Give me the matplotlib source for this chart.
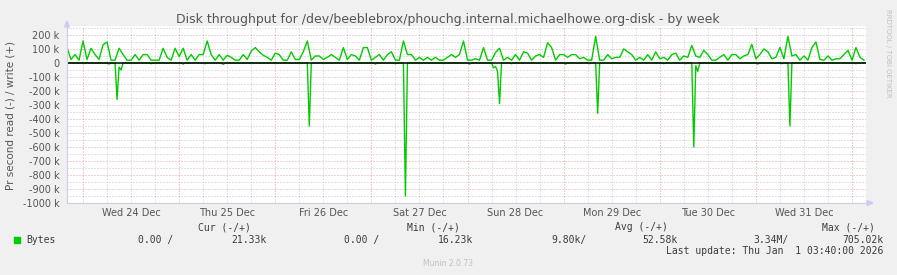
import matplotlib.pyplot as plt
import matplotlib.dates as mdates
from matplotlib.patches import Rectangle, Polygon
from matplotlib.lines import Line2D
import pandas as pd

W, H = 897, 275

# write (+) in kB/s, hourly averages from Tue 23 Dec 20:00
write_k = [
    110, 25, 60, 20, 157, 25, 105, 60, 25, 130,
    150, 20, 20, 105, 60, 20, 20, 60, 20, 60,
    60, 20, 20, 20, 105, 40, 20, 105, 45, 105,
    20, 60, 20, 60, 60, 157, 60, 20, 60, 20,
    55, 40, 20, 20, 60, 25, 85, 110, 80, 55,
    40, 20, 70, 60, 20, 20, 80, 25, 25, 80,
    157, 20, 50, 50, 25, 40, 60, 40, 20, 110,
    25, 60, 50, 20, 110, 110, 20, 40, 60, 20,
    60, 80, 20, 20, 157, 60, 60, 20, 40, 20,
    40, 20, 40, 20, 20, 40, 60, 40, 60, 157,
    20, 20, 30, 20, 110, 20, 20, 75, 105, 20,
    40, 20, 60, 20, 80, 70, 20, 50, 60, 40,
    145, 110, 20, 60, 60, 40, 60, 60, 30, 40,
    20, 20, 190, 20, 20, 60, 30, 40, 40, 100,
    80, 60, 20, 40, 20, 60, 20, 80, 30, 40,
    20, 60, 70, 20, 50, 40, 125, 50, 40, 90,
    60, 20, 20, 40, 60, 20, 60, 60, 30, 50,
    60, 133, 30, 60, 100, 80, 30, 40, 110, 30,
    190, 50, 60, 20, 50, 20, 110, 150, 25, 20,
    50, 20, 30, 30, 60, 90, 20, 110, 40, 20,
]

# read (-) in kB/s: zero except these half-hour slots
read_slot = [21, 25, 26, 27, 42, 58, 69, 78, 121, 154, 164, 169, 201,
             213, 214, 215, 216, 222, 249, 261, 265, 298, 309, 313, 314,
             315, 345, 357, 361, 394]
read_k = [8, 260, 30, 50, 5, 8, 5, 10, 450, 8, 5, 950, 8,
          35, 25, 60, 290, 5, 8, 5, 360, 5, 5, 600, 20,
          60, 8, 5, 450, 5]

start = '2025-12-23 20:00'
end = '2026-01-01 03:30'
t_write = pd.date_range(start, periods=len(write_k), freq='h')
t_read = pd.date_range(start, periods=400, freq='30min')
read_vals = [0.0] * len(t_read)
for s, v in zip(read_slot, read_k):
    read_vals[s] = -v

title = "Disk throughput for /dev/beeblebrox/phouchg.internal.michaelhowe.org-disk - by week"
ylabel = "Pr second read (-) / write (+)"
txt_col = '#555555'

fig = plt.figure(figsize=(W / 100, H / 100), dpi=100, facecolor='#f0f0f0')
ax = fig.add_axes([67 / W, 1 - 203 / H, (866 - 67) / W, (203 - 26) / H])
ax.set_facecolor('white')
for s in ax.spines.values():
    s.set_visible(False)

dot = (0, (1, 2))
# grid
for v in range(-950, 251, 50):
    c = '#d8a8a8' if v % 100 == 0 else '#c6c6c6'
    ax.axhline(v, color=c, lw=0.72, ls=dot, zorder=0)
for d in pd.date_range('2025-12-23 18:00', '2026-01-01 00:00', freq='6h'):
    c = '#d89a9a' if d.hour == 0 else '#c6c6c6'
    ax.axvline(d, color=c, lw=0.72, ls=dot, zorder=0)

ax.plot(t_write, write_k, color='#00cc00', lw=1.0, zorder=2)
ax.plot(t_read, read_vals, color='#00cc00', lw=1.0, zorder=2)
ax.axhline(0, color='black', lw=1.1, zorder=3)

ax.set_xlim(pd.Timestamp(start), pd.Timestamp(end))
ax.set_ylim(-1000, 264)

yt = list(range(-1000, 201, 100))
ax.set_yticks(yt)
ax.set_yticklabels(['0' if v == 0 else '%d k' % v for v in yt])
ax.xaxis.set_major_locator(mdates.HourLocator(byhour=12))
ax.xaxis.set_major_formatter(mdates.DateFormatter('%a %d %b'))
ax.tick_params(axis='y', length=0, pad=5.5, labelsize=7, labelcolor=txt_col)
ax.tick_params(axis='x', length=0, pad=3.5, labelsize=7, labelcolor=txt_col)


def px(x, y):
    return (x / W, 1 - y / H)


# axis lines with arrows
ax_col = '#cdcdf2'
fig.add_artist(Line2D([67 / W, 67 / W], [1 - 203 / H, 1 - 24 / H], color=ax_col, lw=0.8))
fig.add_artist(Line2D([67 / W, 869 / W], [1 - 203 / H, 1 - 203 / H], color=ax_col, lw=0.8))
fig.add_artist(Polygon([px(64.5, 27), px(69.5, 27), px(67, 21)], closed=True,
                       transform=fig.transFigure, color=ax_col))
fig.add_artist(Polygon([px(867, 200.5), px(867, 205.5), px(873, 203)], closed=True,
                       transform=fig.transFigure, color=ax_col))

fig.text(448 / W, 1 - 23.5 / H, title, ha='center', va='baseline', fontsize=9, color=txt_col)
fig.text(11 / W, 1 - 115 / H, ylabel, ha='center', va='center', rotation=90,
         fontsize=7.5, color=txt_col)
fig.text(887.5 / W, 1 - 53 / H, 'RRDTOOL / TOBI OETIKER', ha='center', va='center',
         rotation=270, fontsize=5, color='#c0c0c0')

mono = dict(family='DejaVu Sans Mono', fontsize=7, color='#3c3c3c', va='baseline')
headers = ['Cur (-/+)', 'Min (-/+)', 'Avg (-/+)', 'Max (-/+)']
header_x = [198, 407, 615, 822]
for h, x in zip(headers, header_x):
    fig.text(x / W, 1 - 230 / H, h, ha='left', **mono)

fig.add_artist(Rectangle(px(14, 243), 6 / W, 6 / H, transform=fig.transFigure,
                         color='#00cc00'))
fig.text(26 / W, 1 - 243 / H, 'Bytes', ha='left', **mono)
values = ['0.00 /', '21.33k', '0.00 /', '16.23k', '9.80k/', '52.58k', '3.34M/', '705.02k']
value_x = [173, 267, 379, 473, 587, 678, 789, 883]
for v, x in zip(values, value_x):
    fig.text(x / W, 1 - 243 / H, v, ha='right', **mono)
fig.text(883 / W, 1 - 254.5 / H, 'Last update: Thu Jan  1 03:40:00 2026', ha='right', **mono)
fig.text(448 / W, 1 - 266 / H, 'Munin 2.0.73', ha='center', va='baseline',
         fontsize=5.5, color='#c0c0c0')

fig.savefig('out.png', dpi=100, facecolor=fig.get_facecolor())
